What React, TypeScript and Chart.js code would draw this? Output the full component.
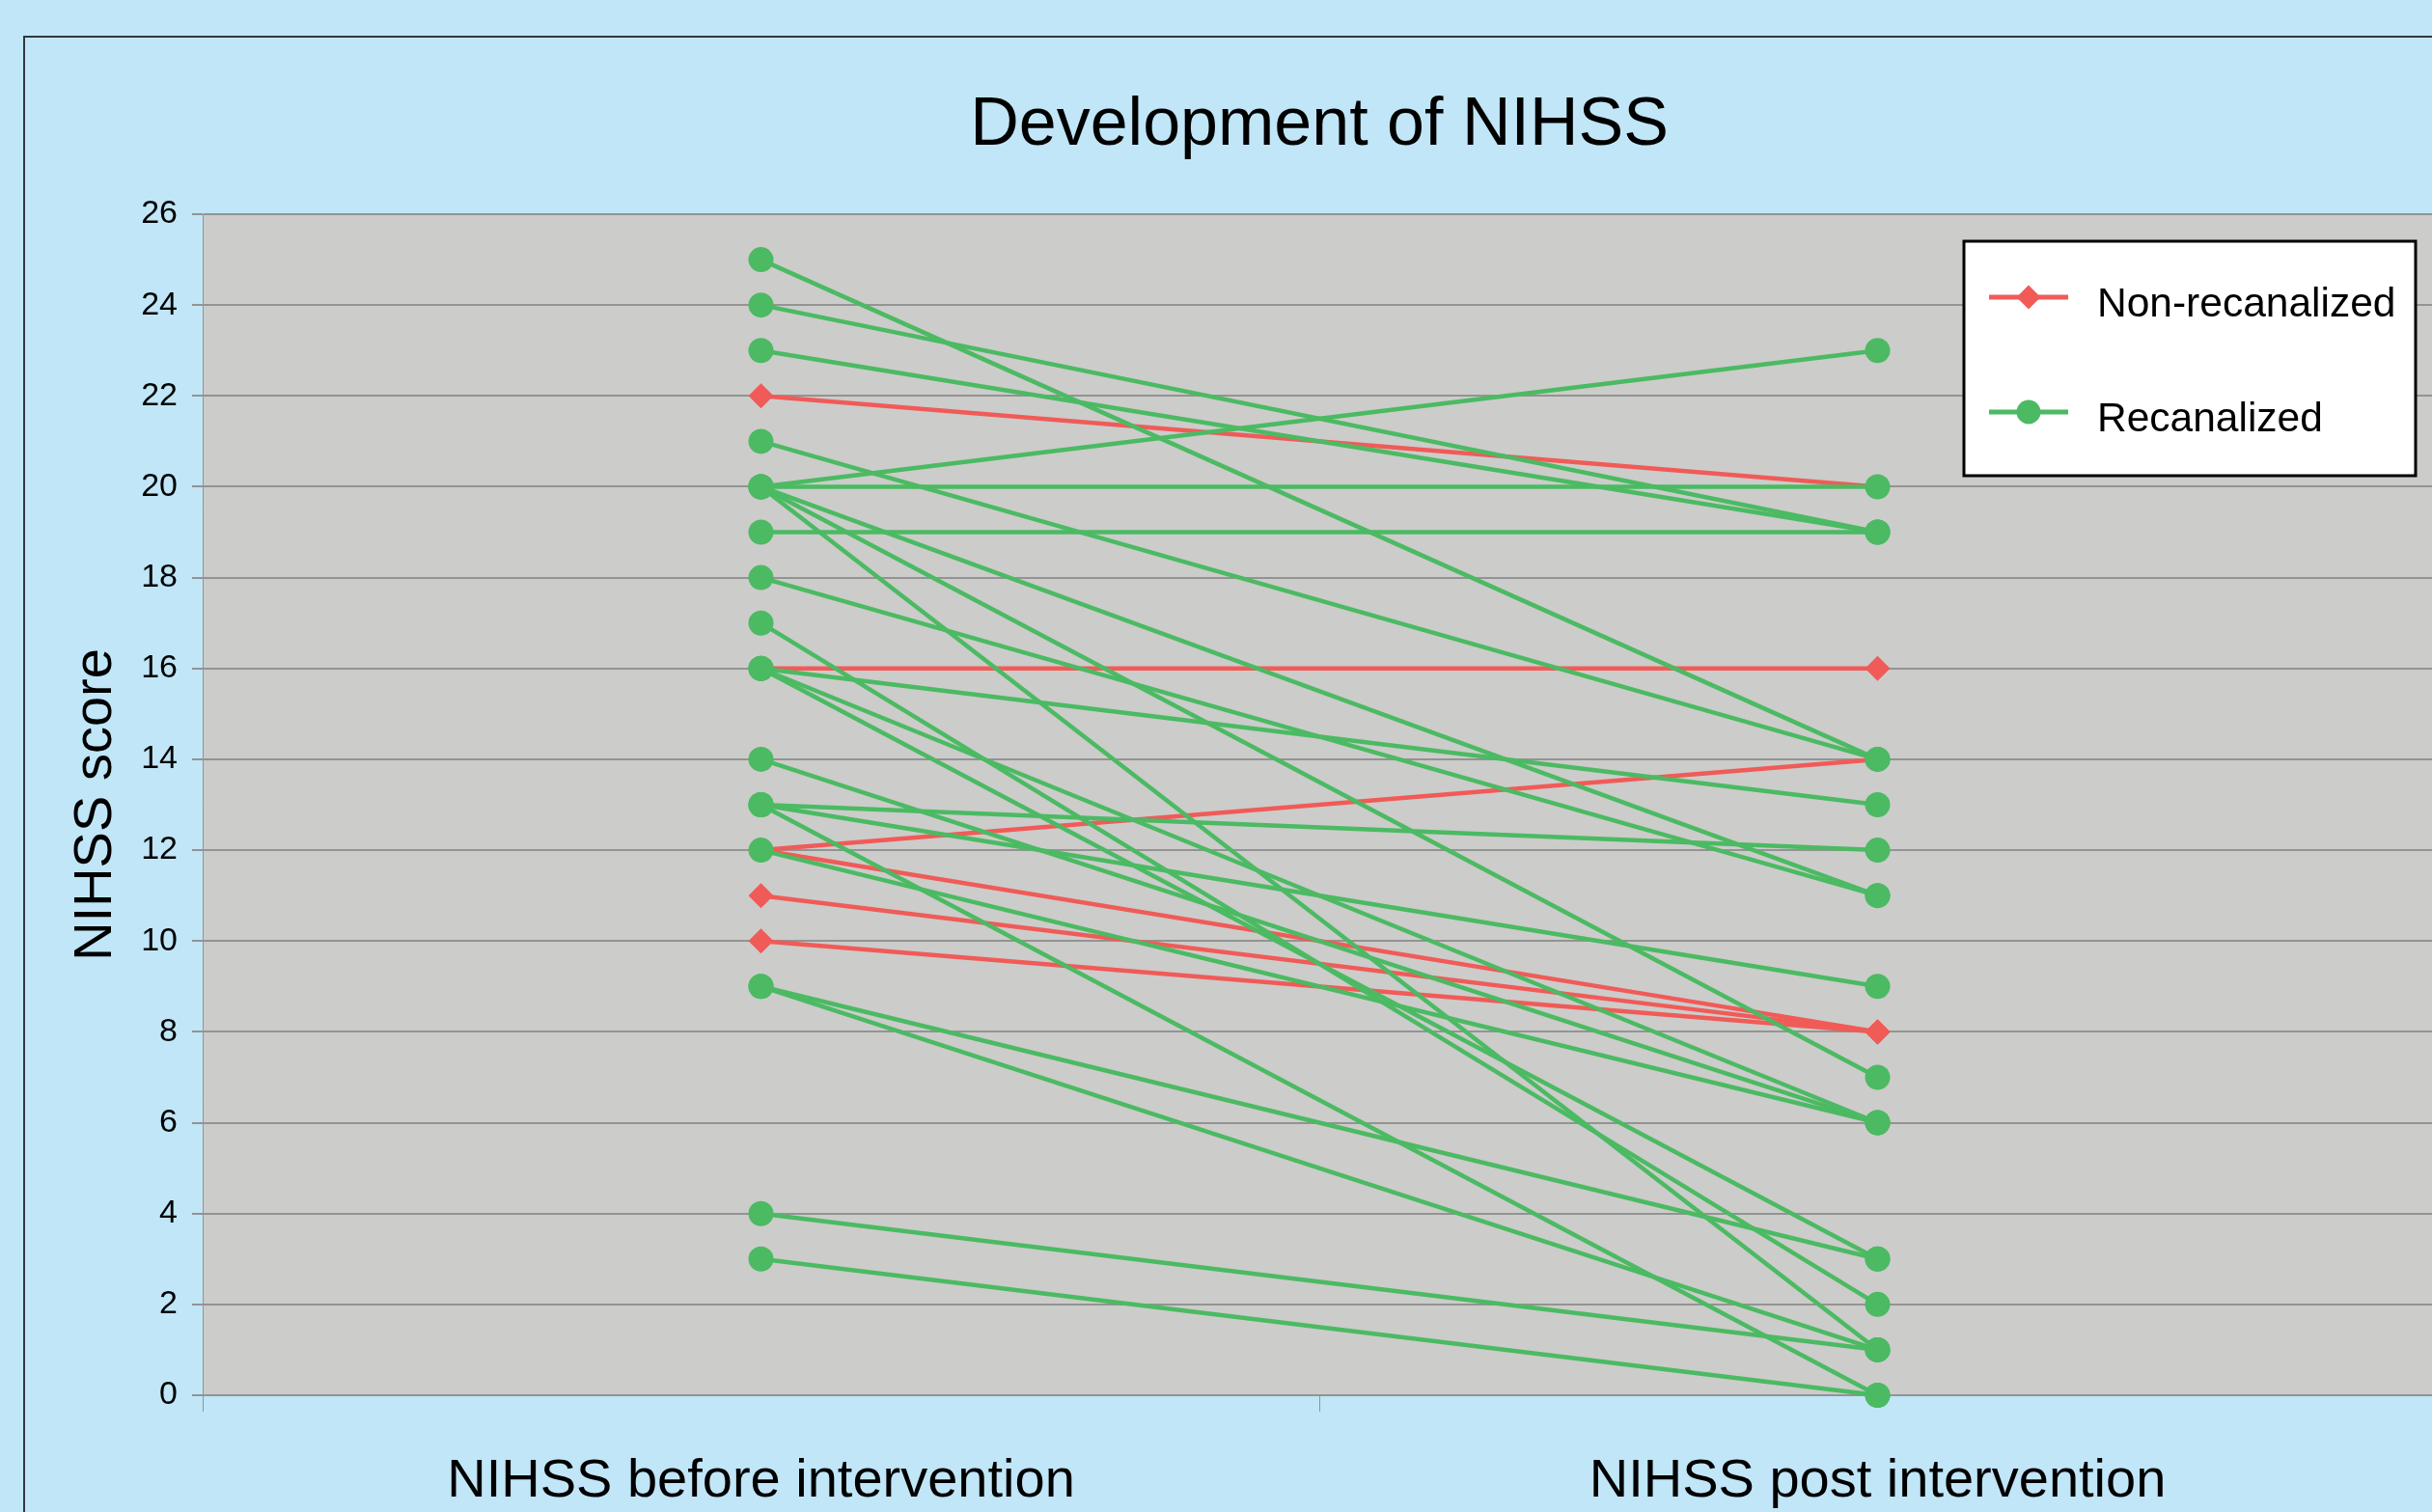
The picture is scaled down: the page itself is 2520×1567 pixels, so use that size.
import React, { useEffect, useRef } from "react";
import { Chart, registerables } from "chart.js";

Chart.register(...registerables);

// ---- data ----
const categories = ["NIHSS before intervention", "NIHSS post intervention"];
const groupLabels = ["Non-recanalized", "Recanalized"];
const nonRecanBefore = [22, 16, 12, 12, 11, 10];
const nonRecanPost = [20, 16, 14, 8, 8, 8];
const recanBefore = [25, 24, 23, 21, 20, 20, 20, 20, 20, 19, 18, 17, 16, 16, 16, 14, 13, 13, 13, 12, 9, 9, 4, 3];
const recanPost = [14, 19, 19, 14, 23, 20, 11, 7, 1, 19, 11, 2, 13, 6, 3, 6, 12, 9, 0, 6, 3, 1, 1, 0];
const yMin = 0;
const yMax = 26;
const yStep = 2;
const chartTitle = "Development of NIHSS";
const yTitle = "NIHSS score";

// ---- styles ----
const RED = "#F05B58";
const GREEN = "#4BBA63";
const GRID = "#939393";
const PAGE_BG = "#C0E6F8";
const PLOT_BG = "#CCCCCA";
const FONT = "'Liberation Sans', Arial, Helvetica, sans-serif";

const plotBgPlugin = {
  id: "plotBg",
  beforeDraw(chart: any) {
    const { ctx, chartArea } = chart;
    ctx.save();
    ctx.fillStyle = PLOT_BG;
    ctx.fillRect(chartArea.left, chartArea.top, chartArea.right - chartArea.left, chartArea.bottom - chartArea.top);
    ctx.restore();
  },
};

const boxLegendPlugin = {
  id: "boxLegend",
  afterDraw(chart: any) {
    const { ctx, chartArea } = chart;
    const bx = chartArea.right - 489;
    const by = chartArea.top + 28;
    const bw = 468;
    const bh = 243;
    ctx.save();
    ctx.fillStyle = "#ffffff";
    ctx.fillRect(bx, by, bw, bh);
    ctx.strokeStyle = "#000000";
    ctx.lineWidth = 3;
    ctx.strokeRect(bx, by, bw, bh);
    const items = [
      { label: groupLabels[0], color: RED, diamond: true, dy: 58 },
      { label: groupLabels[1], color: GREEN, diamond: false, dy: 177 },
    ];
    for (const it of items) {
      const y = by + it.dy;
      ctx.strokeStyle = it.color;
      ctx.lineWidth = 5;
      ctx.beginPath();
      ctx.moveTo(bx + 26, y);
      ctx.lineTo(bx + 108, y);
      ctx.stroke();
      const cx = bx + 67;
      const r = 12.5;
      ctx.fillStyle = it.color;
      ctx.beginPath();
      if (it.diamond) {
        ctx.moveTo(cx - r, y);
        ctx.lineTo(cx, y - r);
        ctx.lineTo(cx + r, y);
        ctx.lineTo(cx, y + r);
        ctx.closePath();
      } else {
        ctx.arc(cx, y, r, 0, Math.PI * 2);
      }
      ctx.fill();
      ctx.fillStyle = "#000000";
      ctx.font = `42.5px ${FONT}`;
      ctx.textAlign = "left";
      ctx.textBaseline = "alphabetic";
      ctx.fillText(it.label, bx + 138, y + 20);
    }
    ctx.restore();
  },
};

function makeDatasets() {
  const red = nonRecanBefore.map((b, i) => ({
    label: groupLabels[0],
    data: [b, nonRecanPost[i]],
    borderColor: RED,
    backgroundColor: RED,
    pointBackgroundColor: RED,
    pointBorderColor: RED,
    pointBorderWidth: 0,
    pointStyle: "rectRot",
    pointRadius: 13,
    borderWidth: 4.5,
    tension: 0,
    fill: false,
    clip: false,
    order: 1,
  }));
  const green = recanBefore.map((b, i) => ({
    label: groupLabels[1],
    data: [b, recanPost[i]],
    borderColor: GREEN,
    backgroundColor: GREEN,
    pointBackgroundColor: GREEN,
    pointBorderColor: GREEN,
    pointBorderWidth: 0,
    pointStyle: "circle",
    pointRadius: 13,
    borderWidth: 4.5,
    tension: 0,
    fill: false,
    clip: false,
    order: 0,
  }));
  return [...red, ...green];
}

export default function App() {
  const ref = useRef<HTMLCanvasElement>(null);

  useEffect(() => {
    if (!ref.current) return;
    const chart = new Chart(ref.current, {
      type: "line",
      data: { labels: categories, datasets: makeDatasets() as any },
      plugins: [plotBgPlugin, boxLegendPlugin],
      options: {
        responsive: false,
        animation: false,
        devicePixelRatio: 1,
        events: [],
        layout: { padding: { left: 0, top: 0, right: 186, bottom: 0 } },
        plugins: {
          legend: { display: false },
          tooltip: { enabled: false },
          title: {
            display: true,
            fullSize: false,
            text: chartTitle,
            color: "#000000",
            font: { family: FONT, size: 70, weight: "normal", lineHeight: 1.2 },
            padding: { top: 50, bottom: 49 },
          },
        },
        scales: {
          x: {
            type: "category",
            offset: true,
            grid: {
              display: true,
              drawOnChartArea: false,
              drawTicks: true,
              tickLength: 17,
              offset: true,
              color: GRID,
              lineWidth: 1,
            },
            border: { display: true, color: GRID, width: 2 },
            ticks: {
              color: "#000000",
              font: { family: FONT, size: 56, lineHeight: 1.2 },
              padding: 39,
              maxRotation: 0,
              autoSkip: false,
            },
            afterFit: (s: any) => {
              s.height = 193;
            },
          },
          y: {
            min: yMin,
            max: yMax,
            ticks: {
              stepSize: yStep,
              color: "#000000",
              font: { family: FONT, size: 34 },
              padding: 15,
            },
            grid: { color: GRID, lineWidth: 2, tickLength: 11, drawTicks: true },
            border: { display: true, color: GRID, width: 1 },
            title: {
              display: true,
              text: yTitle,
              color: "#000000",
              font: { family: FONT, size: 56, lineHeight: 1.2 },
              padding: { top: 40, bottom: 0 },
            },
            afterFit: (s: any) => {
              s.width = 184;
            },
          },
        },
      } as any,
    });
    return () => chart.destroy();
  }, []);

  return (
    <div
      style={{
        position: "fixed",
        left: 0,
        top: 0,
        width: 2520,
        height: 1567,
        overflow: "hidden",
        background: PAGE_BG,
      }}
    >
      <div
        style={{
          position: "absolute",
          left: 24,
          top: 37,
          width: 2800,
          height: 1700,
          borderTop: "2px solid #33383c",
          borderLeft: "2px solid #33383c",
        }}
      />
      <canvas
        ref={ref}
        width={2684}
        height={1600}
        style={{ position: "absolute", left: 26, top: 39, width: 2684, height: 1600 }}
      />
    </div>
  );
}
